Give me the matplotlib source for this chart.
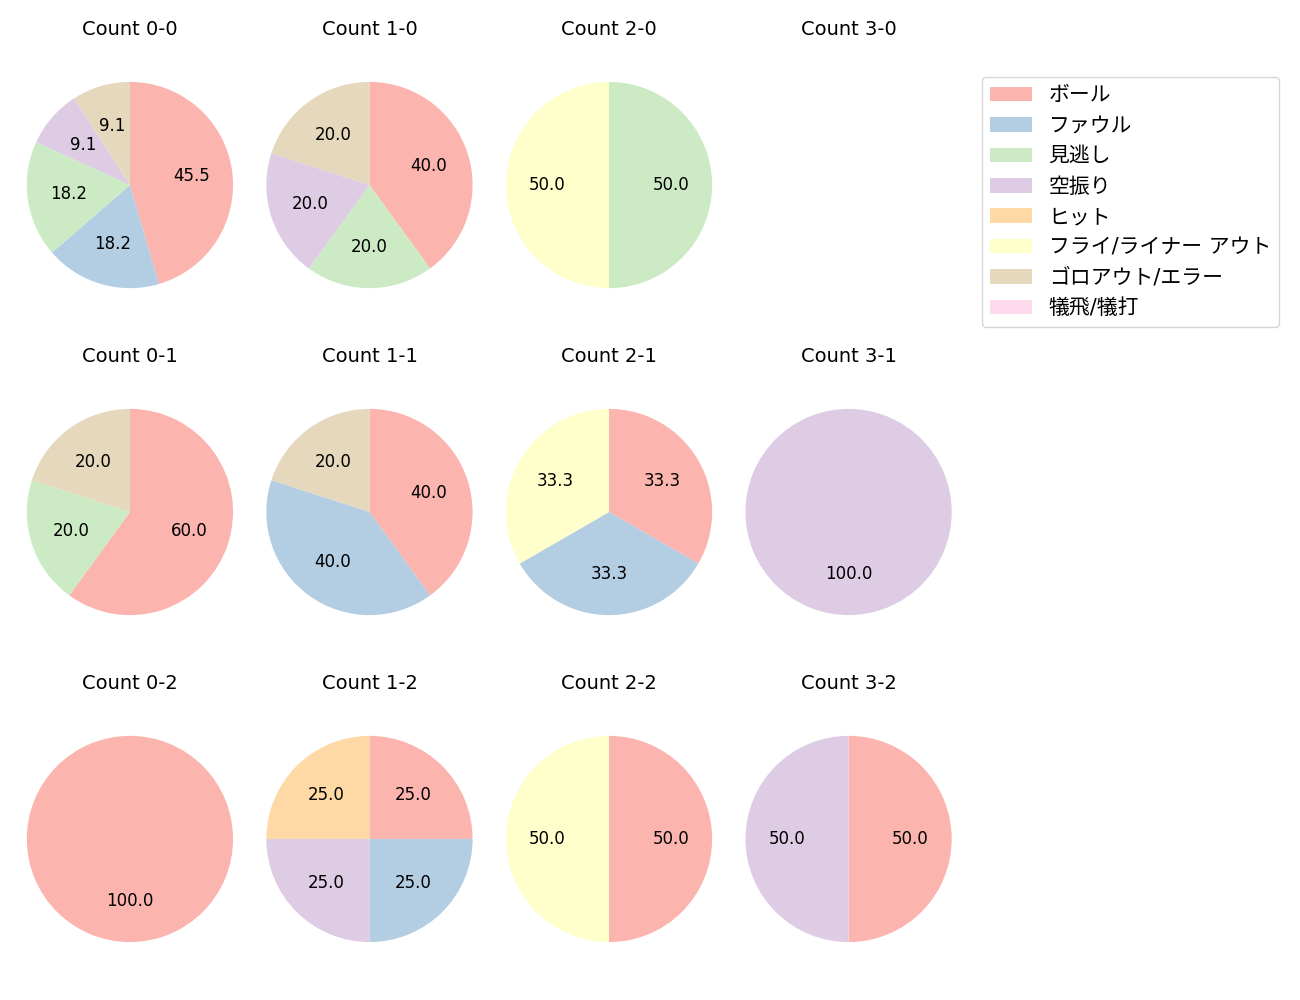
import matplotlib
matplotlib.use("Agg")
import matplotlib.pyplot as plt
from matplotlib.patches import Patch

plt.rcParams['font.family'] = ['DejaVu Sans', 'Noto Sans CJK JP']

categories = ['ボール', 'ファウル', '見逃し', '空振り', 'ヒット',
              'フライ/ライナー アウト', 'ゴロアウト/エラー', '犠飛/犠打']
colors = ['#fbb4ae', '#b3cde3', '#ccebc5', '#decbe4', '#fed9a6',
          '#ffffcc', '#e5d8bd', '#fddaec']

balls = [0, 1, 2, 3]
strikes = [0, 1, 2]

# counts per category for each (ball, strike) count
counts = {
    (0, 0): [5, 2, 2, 1, 0, 0, 1, 0],
    (1, 0): [2, 0, 1, 1, 0, 0, 1, 0],
    (2, 0): [0, 0, 1, 0, 0, 1, 0, 0],
    (3, 0): [0, 0, 0, 0, 0, 0, 0, 0],
    (0, 1): [3, 0, 1, 0, 0, 0, 1, 0],
    (1, 1): [2, 2, 0, 0, 0, 0, 1, 0],
    (2, 1): [1, 1, 0, 0, 0, 1, 0, 0],
    (3, 1): [0, 0, 0, 1, 0, 0, 0, 0],
    (0, 2): [1, 0, 0, 0, 0, 0, 0, 0],
    (1, 2): [1, 1, 0, 1, 1, 0, 0, 0],
    (2, 2): [1, 0, 0, 0, 0, 1, 0, 0],
    (3, 2): [1, 0, 0, 1, 0, 0, 0, 0],
}

fig, axes = plt.subplots(3, 4, figsize=(13, 10), dpi=100)
fig.subplots_adjust(left=0.0127, right=0.740, top=0.958, bottom=0.018,
                    wspace=0.056, hspace=0.143)

for r, s in enumerate(strikes):
    for c, b in enumerate(balls):
        ax = axes[r, c]
        ax.set_title(f'Count {b}-{s}', fontsize=14, pad=5)
        vals = counts[(b, s)]
        sel = [i for i, v in enumerate(vals) if v > 0]
        if not sel:
            ax.axis('off')
            continue
        ax.pie([vals[i] for i in sel], colors=[colors[i] for i in sel],
               autopct='%1.1f', startangle=90, counterclock=False,
               textprops={'fontsize': 12})
        ax.axis('equal')

handles = [Patch(facecolor=col) for col in colors]
fig.legend(handles, categories, loc='upper left',
           bbox_to_anchor=(982 / 1300, 1 - 77 / 1000), borderaxespad=0,
           fontsize=15)

fig.savefig('out.png', dpi=100)
